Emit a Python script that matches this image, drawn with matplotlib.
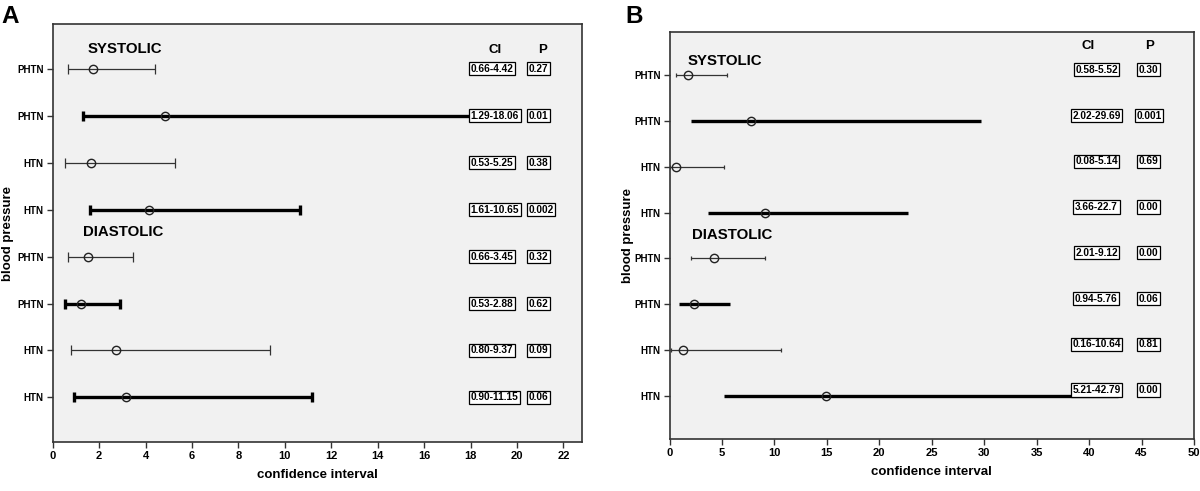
import numpy as np
import matplotlib.pyplot as plt

plt.rcParams['font.family'] = ['Liberation Sans', 'DejaVu Sans']

# row labels, top to bottom (systolic first, then diastolic)
row_labels = ["PHTN", "PHTN", "HTN", "HTN", "PHTN", "PHTN", "HTN", "HTN"]
thick_rows = [False, True, False, True, False, True, False, True]

# panel A
a_est = [1.72, 4.82, 1.66, 4.13, 1.52, 1.23, 2.73, 3.16]
a_low = [0.66, 1.29, 0.53, 1.61, 0.66, 0.53, 0.80, 0.90]
a_high = [4.42, 18.06, 5.25, 10.65, 3.45, 2.88, 9.37, 11.15]
a_ci_text = ["0.66-4.42", "1.29-18.06", "0.53-5.25", "1.61-10.65",
             "0.66-3.45", "0.53-2.88", "0.80-9.37", "0.90-11.15"]
a_p_text = ["0.27", "0.01", "0.38", "0.002", "0.32", "0.62", "0.09", "0.06"]
a_xticks = np.arange(0, 23, 2)

# panel B
b_est = [1.75, 7.74, 0.64, 9.14, 4.27, 2.32, 1.31, 14.93]
b_low = [0.58, 2.02, 0.08, 3.66, 2.01, 0.94, 0.16, 5.21]
b_high = [5.52, 29.69, 5.14, 22.7, 9.12, 5.76, 10.64, 42.79]
b_ci_text = ["0.58-5.52", "2.02-29.69", "0.08-5.14", "3.66-22.7",
             "2.01-9.12", "0.94-5.76", "0.16-10.64", "5.21-42.79"]
b_p_text = ["0.30", "0.001", "0.69", "0.00", "0.00", "0.06", "0.81", "0.00"]
b_xticks = np.arange(0, 51, 5)

BG = '#f1f1f1'
EDGE = '#333333'
box_style = dict(boxstyle='square,pad=0.16', facecolor='white', edgecolor='black', linewidth=0.9)


def draw_panel(ax, est, low, high, ci_text, p_text, xticks, xmax, opts):
    ypos = np.arange(1, len(est) + 1)
    for y, e, lo, hi, thick in zip(ypos, est, low, high, thick_rows):
        if thick:
            lw, col, cap = 2.4, 'black', opts['cap_thick']
        else:
            lw, col, cap = 0.9, '#333333', opts['cap_thin']
        ax.errorbar([e], [y], xerr=[[e - lo], [hi - e]], fmt='none', ecolor=col,
                    elinewidth=lw, capsize=cap, capthick=lw, zorder=2)
        ax.plot([e], [y], 'o', mfc='none', mec='#222222', ms=6, mew=1.0, zorder=3)

    ax.set_xlim(0, xmax)
    ax.set_ylim(8.95, 0.05)
    ax.set_yticks(ypos)
    ax.set_yticklabels(row_labels, fontweight='bold', fontsize=7)
    ax.set_xticks(xticks)
    ax.set_xticklabels([str(t) for t in xticks], fontweight='bold', fontsize=8)
    ax.tick_params(axis='both', direction='out', length=4.5, width=1.0, color=EDGE, pad=2)
    ax.set_facecolor(BG)
    for s in ax.spines.values():
        s.set_color(EDGE)
        s.set_linewidth(1.2)
    ax.set_xlabel("confidence interval", fontweight='bold', fontsize=9.5)
    ax.set_ylabel("blood pressure", fontweight='bold', fontsize=9.5)
    ax.xaxis.set_label_coords(0.5, opts['xl_y'])
    ax.yaxis.set_label_coords(opts['yl_x'], 0.5)

    ax.text(opts['sys_xy'][0], opts['sys_xy'][1], "SYSTOLIC", fontweight='bold',
            fontsize=10.8, va='center', ha='left')
    ax.text(opts['dia_xy'][0], opts['dia_xy'][1], "DIASTOLIC", fontweight='bold',
            fontsize=10.8, va='center', ha='left')
    ax.text(opts['ci_head'], opts['head_y'], "CI", fontweight='bold', fontsize=9.5,
            ha='center', va='center')
    ax.text(opts['p_head'], opts['head_y'], "P", fontweight='bold', fontsize=9.5,
            ha='center', va='center')
    for y, ct, pt in zip(ypos, ci_text, p_text):
        ty = y + opts['box_dy']
        ax.text(opts['ci_x'], ty, ct, fontsize=7.3, fontweight='bold', ha=opts['ha'],
                va='center', bbox=box_style, zorder=5)
        ax.text(opts['p_x'], ty, pt, fontsize=7.3, fontweight='bold', ha=opts['ha'],
                va='center', bbox=box_style, zorder=5)


fig = plt.figure(figsize=(12, 4.91), dpi=100)
axA = fig.add_axes([0.044, 0.0998, 0.441, 0.851])
axB = fig.add_axes([0.558, 0.106, 0.437, 0.829])

draw_panel(axA, a_est, a_low, a_high, a_ci_text, a_p_text, a_xticks, 22.8,
           dict(cap_thin=3.6, cap_thick=3.6, xl_y=-0.064, yl_x=-0.074,
                sys_xy=(1.5, 0.57), dia_xy=(1.3, 4.47), ci_head=19.07,
                p_head=21.1, head_y=0.6, ci_x=18.0, p_x=20.5, ha='left',
                box_dy=0.0))
draw_panel(axB, b_est, b_low, b_high, b_ci_text, b_p_text, b_xticks, 50,
           dict(cap_thin=1.2, cap_thick=0, xl_y=-0.067, yl_x=-0.068,
                sys_xy=(1.7, 0.69), dia_xy=(2.1, 4.49), ci_head=39.9,
                p_head=45.8, head_y=0.35, ci_x=40.7, p_x=45.7, ha='center',
                box_dy=-0.12))

fig.text(0.001, 0.967, "A", fontsize=17.5, fontweight='bold', va='center', ha='left')
fig.text(0.521, 0.967, "B", fontsize=17.5, fontweight='bold', va='center', ha='left')

fig.savefig("out.png", dpi=100)
